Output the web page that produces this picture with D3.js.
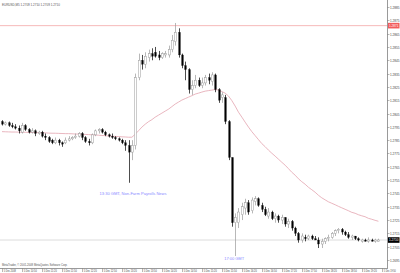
<!DOCTYPE html>
<html><head><meta charset="utf-8">
<script src="https://cdn.jsdelivr.net/npm/d3@7"></script>
<style>html,body{margin:0;padding:0;background:#fff;}svg{display:block;}</style>
</head><body>
<svg id="c" width="400" height="273"></svg>
<script>
const symbolTitle = "EURUSD,M5  1.2709 1.2710 1.2709 1.2710";
const copyright = "MetaTrader, \u00a9 2001-2008 MetaQuotes Software Corp.";
const open = [1.2799,1.2797,1.2798,1.2796,1.2795,1.2794,1.2791,1.2796,1.2793,1.2791,1.2792,1.2790,1.2791,1.2788,1.2787,1.2785,1.2783,1.2785,1.2783,1.2783,
1.2785,1.2786,1.2787,1.2788,1.2790,1.2787,1.2784,1.2783,1.2789,1.2792,1.2793,1.2791,1.2789,1.2788,1.2787,1.2786,1.2785,1.2783,1.2781,1.2776,
1.2781,1.2832,1.2845,1.2842,1.2847,1.2850,1.2851,1.2849,1.2847,1.2849,1.2849,1.2853,1.2859,1.2866,1.2849,1.2841,1.2838,1.2823,1.2826,1.2830,
1.2826,1.2828,1.2832,1.2829,1.2834,1.2823,1.2817,1.2817,1.2799,1.2772,1.2723,1.2723,1.2729,1.2734,1.2738,1.2732,1.2739,1.2741,1.2736,1.2733,
1.2728,1.2731,1.2726,1.2728,1.2725,1.2727,1.2722,1.2724,1.2719,1.2715,1.2710,1.2712,1.2711,1.2713,1.2711,1.2710,1.2707,1.2709,1.2711,1.2712,
1.2715,1.2717,1.2718,1.2716,1.2714,1.2712,1.2713,1.2711,1.2709,1.2710,1.2709,1.2710,1.2709,1.2709];
const high = [1.2800,1.2799,1.2799,1.2798,1.2797,1.2796,1.2798,1.2797,1.2794,1.2794,1.2793,1.2792,1.2792,1.2790,1.2788,1.2786,1.2787,1.2786,1.2784,1.2787,
1.2788,1.2788,1.2790,1.2791,1.2791,1.2788,1.2786,1.2790,1.2793,1.2794,1.2794,1.2792,1.2790,1.2790,1.2788,1.2787,1.2786,1.2785,1.2785,1.2785,
1.2835,1.2850,1.2849,1.2851,1.2853,1.2854,1.2855,1.2852,1.2851,1.2852,1.2856,1.2864,1.2873,1.2869,1.2850,1.2844,1.2839,1.2830,1.2834,1.2832,
1.2832,1.2834,1.2835,1.2836,1.2835,1.2824,1.2821,1.2819,1.2800,1.2772,1.2730,1.2734,1.2738,1.2741,1.2740,1.2742,1.2743,1.2742,1.2738,1.2735,
1.2734,1.2732,1.2730,1.2729,1.2729,1.2727,1.2726,1.2725,1.2720,1.2716,1.2715,1.2714,1.2714,1.2714,1.2713,1.2712,1.2711,1.2712,1.2714,1.2716,
1.2718,1.2719,1.2719,1.2717,1.2716,1.2714,1.2713,1.2712,1.2711,1.2711,1.2712,1.2711,1.2711,1.2711];
const low = [1.2796,1.2796,1.2795,1.2794,1.2793,1.2790,1.2790,1.2792,1.2790,1.2790,1.2788,1.2789,1.2787,1.2785,1.2783,1.2782,1.2782,1.2781,1.2780,1.2782,
1.2784,1.2785,1.2786,1.2787,1.2785,1.2783,1.2781,1.2782,1.2788,1.2790,1.2790,1.2788,1.2787,1.2786,1.2785,1.2784,1.2782,1.2777,1.2753,1.2770,
1.2778,1.2830,1.2838,1.2839,1.2844,1.2845,1.2847,1.2845,1.2846,1.2847,1.2847,1.2851,1.2856,1.2847,1.2839,1.2830,1.2820,1.2819,1.2824,1.2825,
1.2824,1.2826,1.2827,1.2826,1.2821,1.2813,1.2813,1.2797,1.2770,1.2720,1.2698,1.2719,1.2725,1.2729,1.2729,1.2730,1.2736,1.2735,1.2731,1.2728,
1.2726,1.2725,1.2723,1.2723,1.2722,1.2720,1.2719,1.2717,1.2713,1.2708,1.2708,1.2709,1.2710,1.2710,1.2710,1.2704,1.2704,1.2707,1.2709,1.2711,
1.2713,1.2715,1.2714,1.2713,1.2711,1.2710,1.2710,1.2709,1.2708,1.2709,1.2708,1.2709,1.2708,1.2709];
const close = [1.2797,1.2798,1.2796,1.2795,1.2794,1.2792,1.2796,1.2793,1.2791,1.2792,1.2790,1.2791,1.2788,1.2787,1.2784,1.2783,1.2785,1.2783,1.2782,1.2785,
1.2786,1.2787,1.2788,1.2790,1.2787,1.2784,1.2783,1.2789,1.2792,1.2793,1.2791,1.2789,1.2788,1.2787,1.2786,1.2785,1.2783,1.2781,1.2776,1.2781,
1.2832,1.2845,1.2842,1.2848,1.2850,1.2848,1.2848,1.2847,1.2850,1.2850,1.2853,1.2860,1.2866,1.2849,1.2841,1.2838,1.2823,1.2826,1.2830,1.2826,
1.2828,1.2832,1.2830,1.2834,1.2823,1.2815,1.2819,1.2799,1.2772,1.2723,1.2727,1.2731,1.2735,1.2738,1.2731,1.2740,1.2741,1.2736,1.2733,1.2729,
1.2731,1.2726,1.2728,1.2725,1.2727,1.2722,1.2724,1.2719,1.2715,1.2710,1.2713,1.2711,1.2713,1.2711,1.2710,1.2707,1.2709,1.2711,1.2712,1.2715,
1.2717,1.2718,1.2716,1.2714,1.2712,1.2713,1.2711,1.2710,1.2710,1.2709,1.2710,1.2709,1.2710,1.2710];
const maValues = [1.27914,1.27913,1.27912,1.27911,1.27911,1.27910,1.27910,1.27909,1.27908,1.27908,1.27907,1.27906,1.27905,1.27905,1.27903,1.27902,1.27902,1.27901,1.27900,1.27899,
1.27899,1.27898,1.27896,1.27896,1.27894,1.27893,1.27892,1.27890,1.27889,1.27887,1.27885,1.27884,1.27881,1.27880,1.27878,1.27877,1.27875,1.27874,1.27872,1.27872,
1.27895,1.27921,1.27948,1.27970,1.27989,1.28004,1.28023,1.28038,1.28053,1.28068,1.28083,1.28102,1.28121,1.28136,1.28151,1.28162,1.28173,1.28184,1.28196,1.28203,
1.28211,1.28218,1.28222,1.28226,1.28230,1.28226,1.28215,1.28203,1.28181,1.28147,1.28106,1.28060,1.28023,1.27985,1.27948,1.27914,1.27884,1.27854,1.27824,1.27801,
1.27775,1.27752,1.27730,1.27707,1.27684,1.27662,1.27636,1.27609,1.27587,1.27560,1.27538,1.27519,1.27496,1.27478,1.27459,1.27436,1.27417,1.27402,1.27387,1.27376,
1.27365,1.27353,1.27342,1.27331,1.27320,1.27308,1.27301,1.27290,1.27282,1.27275,1.27263,1.27256,1.27248,1.27241];
const priceTicks = [1.2885,1.2875,1.2865,1.2855,1.2845,1.2835,1.2825,1.2815,1.2805,1.2795,1.2785,1.2775,1.2765,1.2755,1.2745,1.2735,1.2725,1.2715,1.2705,1.2695];
const timeLabels = ["5 Dec 2008","5 Dec 10:50","5 Dec 11:20","5 Dec 11:50","5 Dec 12:20","5 Dec 12:50","5 Dec 13:20","5 Dec 13:50","5 Dec 14:20","5 Dec 14:50",
"5 Dec 15:20","5 Dec 15:50","5 Dec 16:20","5 Dec 16:50","5 Dec 17:20","5 Dec 17:50","5 Dec 18:20","5 Dec 18:50","5 Dec 19:20","5 Dec 19:50"];
const labelEvery = 6;
const dayHigh = 1.2871;
const lastPrice = 1.2710;
const annotations = [
  {bar: 38, price: 1.2753, text: "13:30 GMT, Non-Farm Payrolls News", dx: -29, dy: 12.5, w: 67},
  {bar: 70, price: 1.2698, text: "17:00 GMT", dx: -11, dy: 4, w: 20}
];

const svg = d3.select("#c");
const W = 400, H = 273;
const axisX = 387, bottomY = 268;
const n = open.length;
const x = d3.scaleLinear().domain([0, n - 1]).range([2, 378.4]);
const y = d3.scaleLinear().domain([1.2885, 1.2695]).range([7, 260]);
const FONT = "Arial, 'Liberation Sans', sans-serif";

// text squeezed horizontally to a target width with a transform
function txt(sel, s, px, py, size, w, fill) {
  const gg = sel.append("g");
  const t = gg.append("text").attr("x", 0).attr("y", 0).text(s)
    .attr("font-family", FONT).attr("font-size", size).attr("fill", fill);
  const nat = t.node().getComputedTextLength() || w;
  gg.attr("transform", `translate(${px},${py}) scale(${w / nat},1)`);
  return gg;
}

svg.append("rect").attr("width", W).attr("height", H).attr("fill", "#fff");

// frame
svg.append("line").attr("x1", axisX + 0.5).attr("x2", axisX + 0.5).attr("y1", 0).attr("y2", bottomY)
  .attr("stroke", "#9a9a9a").attr("stroke-width", 1);
svg.append("line").attr("x1", 0).attr("x2", axisX + 1).attr("y1", bottomY + 0.5).attr("y2", bottomY + 0.5)
  .attr("stroke", "#9a9a9a").attr("stroke-width", 1);

// y axis ticks
const yAxis = svg.append("g");
priceTicks.forEach(p => {
  const yy = Math.round(y(p)) + 0.5;
  yAxis.append("line").attr("x1", axisX).attr("x2", axisX + 2.5).attr("y1", yy).attr("y2", yy)
    .attr("stroke", "#888").attr("stroke-width", 0.6);
  txt(yAxis, p.toFixed(4), axisX + 3, yy + 1.3, 3.7, 9.5, "#444");
});

// x axis labels
const xAxis = svg.append("g");
timeLabels.forEach((t, k) => {
  const xx = Math.round(x(k * labelEvery)) + 0.5;
  const last = k === timeLabels.length - 1;
  xAxis.append("line").attr("x1", xx).attr("x2", xx).attr("y1", bottomY).attr("y2", bottomY + 4)
    .attr("stroke", "#888").attr("stroke-width", 0.6);
  txt(xAxis, t, xx + 1.3, bottomY + 3.9, 3.6, k === 0 ? 12 : (last ? 12 : 13), "#444");
});

// day high line
svg.append("line").attr("x1", 0).attr("x2", axisX).attr("y1", y(dayHigh)).attr("y2", y(dayHigh))
  .attr("stroke", "#f4a7a7").attr("stroke-width", 0.8);
// last price line
svg.append("line").attr("x1", 0).attr("x2", axisX).attr("y1", y(lastPrice)).attr("y2", y(lastPrice))
  .attr("stroke", "#d4d4d4").attr("stroke-width", 0.8);

// MA
const line = d3.line().x((d, i) => x(i)).y(d => y(d)).curve(d3.curveLinear);
svg.append("path").datum(maValues).attr("d", line).attr("fill", "none")
  .attr("stroke", "#e3a3ae").attr("stroke-width", 0.8);

// annotations
annotations.forEach(a => {
  txt(svg, a.text, x(a.bar) + a.dx, y(a.price) + a.dy, 3.9, a.w, "#8a8aff");
});

// candles
const bw = 1.9;
const g = svg.append("g");
for (let i = 0; i < n; i++) {
  const bull = close[i] >= open[i];
  const cx = Math.round(x(i)) + 0.5;
  g.append("line").attr("x1", cx).attr("x2", cx).attr("y1", y(high[i])).attr("y2", y(low[i]))
    .attr("stroke", bull ? "#9a9a9a" : "#000").attr("stroke-width", 0.7);
  const top = y(Math.max(open[i], close[i])), bot = y(Math.min(open[i], close[i]));
  g.append("rect").attr("x", cx - bw / 2).attr("y", top).attr("width", bw).attr("height", Math.max(0.6, bot - top))
    .attr("fill", bull ? "#fff" : "#000").attr("stroke", bull ? "#9a9a9a" : "#000").attr("stroke-width", bull ? 0.5 : 0.2);
}

// price labels
function priceTag(p, bg) {
  const yy = y(p);
  svg.append("rect").attr("x", axisX + 1).attr("y", yy - 2.8).attr("width", 11.5).attr("height", 5.6).attr("fill", bg);
  txt(svg, p.toFixed(4), axisX + 2, yy + 1.3, 3.7, 9.5, "#fff");
}
priceTag(dayHigh, "#f25b5b");
priceTag(lastPrice, "#000");

// title & copyright
txt(svg, symbolTitle, 2, 6, 3.7, 58, "#555");
txt(svg, copyright, 2, 266, 3.5, 66, "#555");
</script>
</body></html>
